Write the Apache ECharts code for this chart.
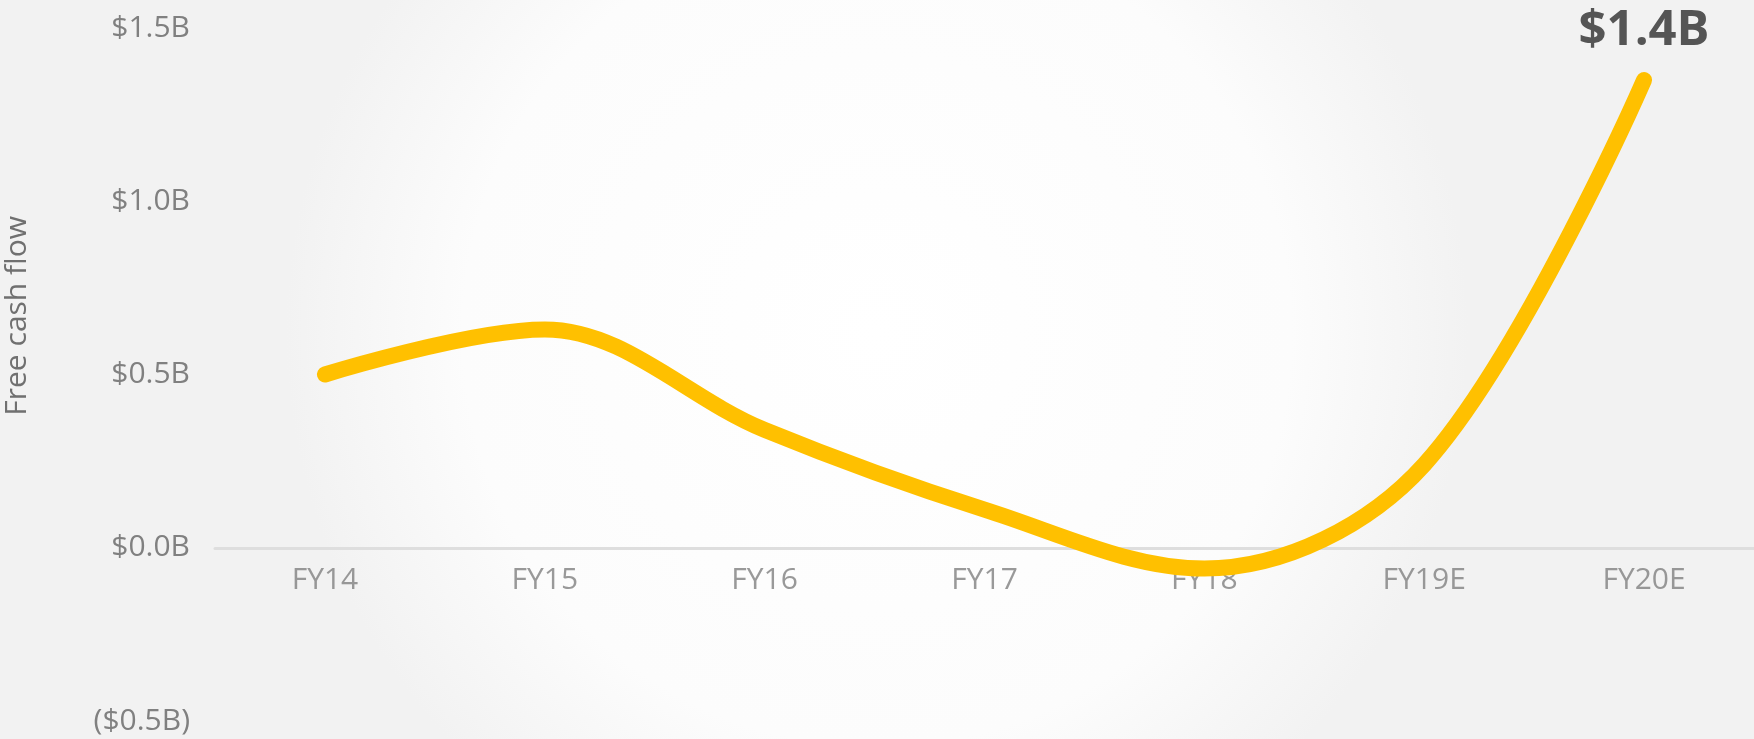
<!DOCTYPE html>
<html>
<head>
<meta charset="utf-8">
<style>
  html, body { margin: 0; padding: 0; }
  #chart { width: 1754px; height: 739px; }
</style>
<script src="https://cdn.jsdelivr.net/npm/echarts@6/dist/echarts.min.js"></script>
</head>
<body>
<div id="chart"></div>
<script>
// Fiscal years shown along the x axis
const years = ['FY14', 'FY15', 'FY16', 'FY17', 'FY18', 'FY19E', 'FY20E'];
// Free cash flow, in billions of dollars
const freeCashFlow = [0.5, 0.63, 0.34, 0.11, -0.06, 0.24, 1.35];
// Value axis range and step, in billions
const yMin = -0.5, yMax = 1.5, yStep = 0.5;

const FONT = 'Open Sans, sans-serif';

function fmtBillions(v) {
  const s = '$' + Math.abs(v).toFixed(1) + 'B';
  return v < 0 ? '(' + s + ')' : s;
}

const last = freeCashFlow.length - 1;
const seriesData = freeCashFlow.map((v, i) => i === last ? {
  value: v,
  label: {
    show: true,
    position: 'top',
    distance: 24,
    formatter: p => fmtBillions(p.value),
    fontFamily: FONT,
    fontWeight: 'bold',
    fontSize: 49,
    color: '#555555'
  }
} : v);

// Category names sit just under the zero line, so they ride on invisible points at 0
const yearLabels = years.map(y => ({ value: 0, name: y }));

const chart = echarts.init(document.getElementById('chart'));
chart.setOption({
  backgroundColor: {
    type: 'radial', x: 0.5, y: 0.45, r: 0.8,
    colorStops: [
      { offset: 0, color: '#ffffff' },
      { offset: 0.7, color: '#fcfcfc' },
      { offset: 1, color: '#f2f2f2' }
    ]
  },
  animation: false,
  grid: { left: 215, right: 0, top: 28, bottom: 18, outerBoundsMode: 'none', containLabel: false },
  xAxis: {
    type: 'category',
    data: years,
    boundaryGap: true,
    axisLine: { onZero: true, lineStyle: { color: '#dedede', width: 3 } },
    axisTick: { show: false },
    axisLabel: { show: false }
  },
  yAxis: {
    type: 'value',
    min: yMin, max: yMax, interval: yStep,
    splitLine: { show: false },
    axisLine: { show: false },
    axisTick: { show: false },
    axisLabel: {
      color: '#808080', fontSize: 30, margin: 25,
      fontFamily: FONT,
      formatter: fmtBillions
    }
  },
  graphic: [{
    type: 'text',
    left: 2,
    top: 216,
    rotation: Math.PI / 2,
    style: {
      text: 'Free cash flow',
      fill: '#707070',
      font: '30px "Open Sans", sans-serif'
    }
  }],
  series: [{
    type: 'line',
    data: seriesData,
    smooth: 0.35,
    showSymbol: true,
    symbolSize: 0,
    lineStyle: { color: '#FFC000', width: 16, cap: 'round', join: 'round' },
    itemStyle: { color: '#FFC000' },
    z: 3
  }, {
    type: 'scatter',
    data: yearLabels,
    symbolSize: 0,
    silent: true,
    z: 2,
    label: {
      show: true,
      position: 'bottom',
      distance: 18,
      formatter: p => p.name,
      color: '#808080',
      fontSize: 30,
      fontFamily: FONT
    }
  }]
});
</script>
</body>
</html>
